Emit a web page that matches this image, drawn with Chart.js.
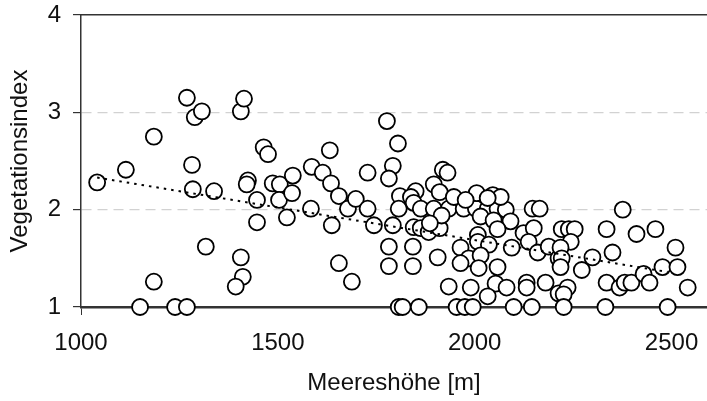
<!DOCTYPE html>
<html>
<head>
<meta charset="utf-8">
<script src="https://cdn.jsdelivr.net/npm/chart.js@4.4.0/dist/chart.umd.min.js"></script>
<style>
  html, body { margin: 0; padding: 0; background: #fff; }
  canvas { display: block; }
</style>
</head>
<body>
<canvas id="chart" width="707" height="401"></canvas>
<script>
// Meereshöhe [m] of each plot
const elevation = [
  1041, 1114, 1185, 1269, 1289, 1307, 1282, 1284, 1338, 1317,
  1185, 1150, 1239, 1269, 1406, 1414, 1464, 1475, 1424, 1421,
  1406, 1411, 1393, 1447, 1447,
  1487, 1505, 1503, 1523, 1536, 1538, 1584, 1586, 1614, 1635,
  1632, 1637, 1655, 1688, 1655, 1678, 1698, 1728, 1728, 1744,
  1777, 1805, 1792, 1782, 1792, 1782, 1782, 1810, 1807, 1807,
  1817,
  1850, 1838, 1845, 1863, 1896, 1934, 1972, 2003, 2033, 2058,
  2079, 1896, 1911, 1919, 1931, 1947, 2005, 2046, 2066, 1977,
  2033, 2015, 2048, 2091, 1845, 1863, 1883, 1911, 2058, 2008,
  2008, 2036, 1843, 1906, 1964, 1985, 2015, 1964, 2010, 2058,
  2094, 1843, 1934, 1990, 2053, 2081, 2033, 1858, 1954, 1975,
  1995, 2099, 2145, 2124, 2150, 2137, 2160, 2188, 2213, 2132,
  2132, 2180, 2213, 2147, 2165, 1916, 1886,
  2221, 2239, 2254, 2244, 2218, 2221, 2218, 2236, 2226, 2226,
  2272, 2299, 2335, 2350, 2335, 2368, 2381, 2398, 2376, 2411,
  2459, 2429, 2444, 2477, 2515, 2510, 2541, 2332, 2490
];

// Vegetationsindex of each plot
const vegIndex = [
  2.28, 2.41, 2.75, 3.15, 2.95, 3.01, 2.46, 2.21, 2.19, 1.62,
  1.26, 1.00, 1.00, 1.00, 3.01, 3.14, 2.64, 2.57, 2.30, 2.26,
  1.51, 1.31, 1.21, 2.10, 1.87,
  2.27, 2.26, 2.10, 1.92, 2.17, 2.35, 2.01, 2.44, 2.38, 2.27,
  2.61, 1.84, 1.45, 1.26, 2.14, 2.01, 2.11, 2.01, 2.38, 1.84,
  2.91, 2.68, 2.45, 2.32, 1.84, 1.62, 1.42, 2.14, 2.01, 1.00,
  1.00,
  2.19, 2.13, 2.07, 2.01, 2.01, 2.01, 2.01, 2.01, 2.01, 2.01,
  2.00, 2.26, 2.18, 2.41, 2.38, 2.13, 2.17, 2.15, 2.13, 2.10,
  2.12, 1.93, 1.89, 1.88, 1.82, 1.81, 1.77, 1.81, 1.80, 1.74,
  1.67, 1.64, 1.62, 1.51, 1.61, 1.50, 1.53, 1.45, 1.40, 1.41,
  1.61, 1.42, 1.21, 1.20, 1.24, 1.20, 1.11, 1.00, 1.00, 1.00,
  1.00, 1.00, 1.00, 1.76, 1.81, 1.67, 1.56, 1.62, 1.50, 1.25,
  1.20, 1.25, 1.14, 2.01, 2.01, 1.94, 1.86,
  1.80, 1.80, 1.80, 1.67, 1.61, 1.50, 1.41, 1.20, 1.13, 1.00,
  1.38, 1.51, 1.80, 1.56, 1.25, 1.20, 1.25, 1.25, 2.00, 1.75,
  1.80, 1.34, 1.25, 1.41, 1.41, 1.61, 1.20, 1.00, 1.00
];

// linear trend, ends of the fitted line
const trendX = [1041, 2490];
const trendY = [2.33, 1.36];

const xTicks = [1000, 1500, 2000, 2500];
const yTicks = [1, 2, 3, 4];

const FONT = "'Liberation Sans', Arial, Helvetica, sans-serif";
const INK = '#111';
const AXIS = '#333';

const points = elevation.map((x, i) => ({ x: x, y: vegIndex[i] }));
const trend = trendX.map((x, i) => ({ x: x, y: trendY[i] }));

// keep the plot flush with the canvas: no extra room for overhanging labels
const noOverhang = s => {
  s.paddingLeft = 0; s.paddingRight = 0;
  s.paddingTop = 0; s.paddingBottom = 0;
};

new Chart(document.getElementById('chart').getContext('2d'), {
  type: 'scatter',
  data: {
    datasets: [
      {
        data: trend,
        showLine: true,
        borderColor: '#000',
        borderWidth: 2,
        borderDash: [2.5, 5],
        pointRadius: 0,
        clip: false,
        order: 0
      },
      {
        data: points,
        pointStyle: 'circle',
        pointRadius: 8,
        pointBorderWidth: 1.8,
        pointBorderColor: '#000',
        pointBackgroundColor: '#fff',
        clip: false,
        order: 1
      }
    ]
  },
  options: {
    responsive: false,
    animation: false,
    layout: { autoPadding: false, padding: { top: 15, right: 0, bottom: 0, left: 0 } },
    plugins: { legend: { display: false }, tooltip: { enabled: false } },
    scales: {
      x: {
        type: 'linear',
        position: 'bottom',
        min: 1000,
        max: 2590,
        afterBuildTicks: s => { s.ticks = xTicks.map(v => ({ value: v })); },
        afterFit: s => { s.height = 94; noOverhang(s); },
        ticks: {
          color: INK,
          font: { family: FONT, size: 24 },
          padding: 14,
          maxRotation: 0,
          callback: v => String(v)
        },
        grid: {
          drawOnChartArea: false,
          tickLength: 8,
          tickColor: c => (c.tick && c.tick.value === 1000 ? AXIS : 'transparent')
        },
        border: { color: AXIS, width: 2.5 },
        title: {
          display: true,
          text: 'Meereshöhe [m]',
          color: INK,
          font: { family: FONT, size: 24 },
          padding: { top: 0, bottom: 3 }
        }
      },
      xTop: {
        type: 'linear',
        position: 'top',
        min: 1000,
        max: 2590,
        afterFit: s => { s.height = 0; noOverhang(s); },
        ticks: { display: false },
        grid: { display: false },
        border: { color: AXIS, width: 1.5 }
      },
      y: {
        type: 'linear',
        min: 1,
        max: 4,
        afterBuildTicks: s => { s.ticks = yTicks.map(v => ({ value: v })); },
        afterFit: s => { s.width = 81; noOverhang(s); },
        ticks: {
          color: INK,
          font: { family: FONT, size: 24 },
          padding: 12
        },
        grid: {
          color: c => (c.tick && (c.tick.value === 2 || c.tick.value === 3) ? '#d2d2d2' : 'transparent'),
          lineWidth: 1.2,
          tickLength: 8,
          tickColor: AXIS
        },
        border: { color: AXIS, width: 1.5, dash: [10, 6] },
        title: {
          display: true,
          text: 'Vegetationsindex',
          color: INK,
          font: { family: FONT, size: 24 },
          padding: { top: 6, bottom: 0 }
        }
      }
    }
  }
});
</script>
</body>
</html>
